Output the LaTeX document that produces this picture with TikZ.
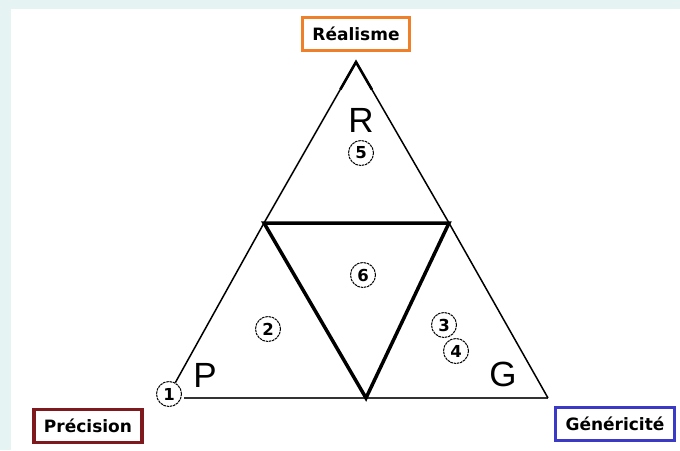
\documentclass[tikz,border=0pt]{standalone}
\usepackage{fontspec}
\setmainfont{Liberation Sans}
\newfontfamily\lblfont{DejaVu Sans}
\usetikzlibrary{calc}
\definecolor{bgcyan}{HTML}{E5F4F2}
\definecolor{orangeb}{HTML}{F07F2A}
\definecolor{redb}{HTML}{7E1A1E}
\definecolor{blueb}{HTML}{3A3AC6}
\tikzset{
  labelbox/.style={draw, line width=3.5pt, fill=white, font=\lblfont\bfseries\fontsize{17}{19}\selectfont, inner xsep=10pt, minimum height=33pt},
  num/.style={circle, draw, line width=1pt, dash pattern=on 2.5pt off 0.8pt, minimum size=25pt, inner sep=0pt, font=\lblfont\bfseries\fontsize{16.5}{18}\selectfont},
  bigletter/.style={font=\fontsize{35}{38}\selectfont, inner sep=0pt},
  thin/.style={line width=1.5pt, line join=miter},
  bold/.style={line width=3.5pt, line join=miter, line cap=round}
}
\begin{document}
\begin{tikzpicture}[x=1pt,y=-1pt]
\useasboundingbox (0,0) rectangle (680,450);
\fill[bgcyan] (0,0) rectangle (680,450);
\fill[white] (11,9) rectangle (680,450);

% vertices
\coordinate (A) at (356,62);
\coordinate (L) at (264,223);
\coordinate (Rv) at (449,223);
\coordinate (M) at (366,398);
\coordinate (C) at (548,398);
\coordinate (B0) at (184,398);

% circled numbers
\node[num] (n1) at (169,394) {1};
\node[num] (n2) at (268,329) {2};
\node[num] (n3) at (444,325) {3};
\node[num] (n4) at (456,351) {4};
\node[num] (n5) at (361,153) {5};
\node[num] (n6) at (363,275) {6};

% outer triangle
\draw[thin] (A) -- (L) -- (n1);
\draw[line width=1.8pt, black!80] (B0) -- (C);
\draw[thin] (C) -- (Rv) -- (A);
\draw[line width=2.6pt, line join=miter] ($(A)!0.17!(L)$) -- (A) -- ($(A)!0.17!(Rv)$);

% inner triangle
\draw[bold] (L) -- (Rv) -- (M) -- cycle;

% big letters
\node[bigletter] (R) at (361,120) {R};
\node[bigletter] (P) at (205,375) {P};
\node[bigletter] (G) at (503,374) {G};

% label boxes
\node[labelbox, draw=orangeb] (real) at (356,34) {Réalisme};
\node[labelbox, draw=redb] (prec) at (88,426) {Précision};
\node[labelbox, draw=blueb] (gen) at (615,424) {Généricité};
\end{tikzpicture}
\end{document}
